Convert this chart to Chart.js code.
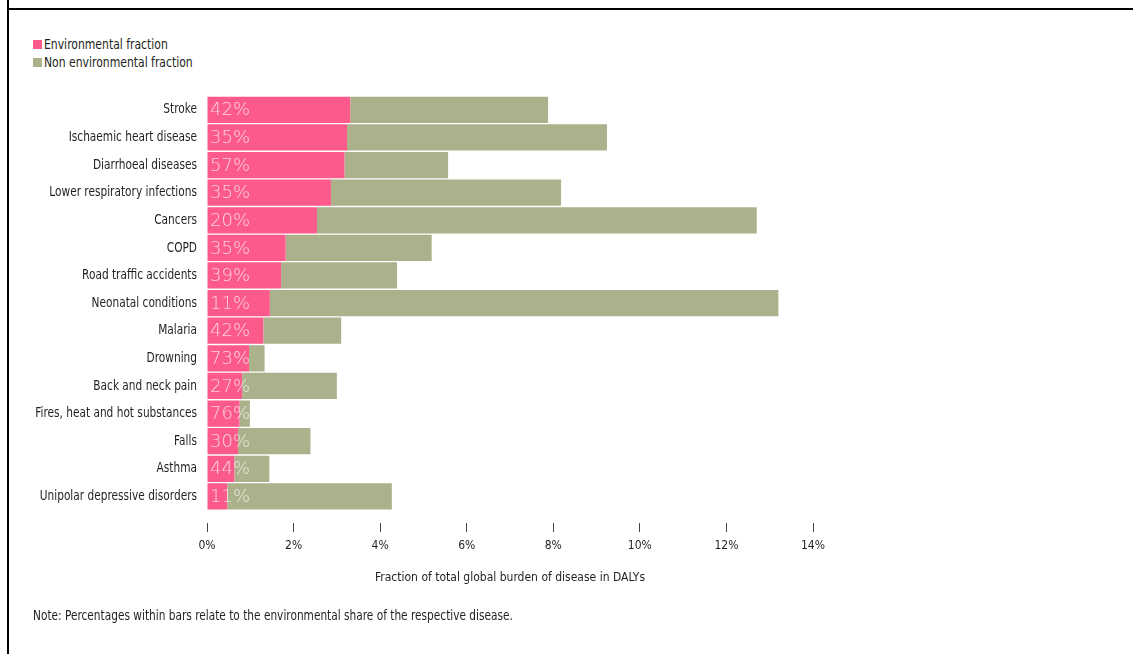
<!DOCTYPE html>
<html>
<head>
<meta charset="utf-8">
<script src="https://cdn.jsdelivr.net/npm/chart.js@4.4.1/dist/chart.umd.min.js"></script>
<style>
  html, body { margin: 0; padding: 0; background: #fff; }
  body { width: 1133px; height: 654px; position: relative; overflow: hidden;
         font-family: "DejaVu Sans Condensed", "DejaVu Sans", sans-serif; color: #231f20; }
  .frame-left { position: absolute; left: 7px; top: 0; width: 2px; height: 654px; background: #000; }
  .frame-top { position: absolute; left: 7px; top: 8px; width: 1126px; height: 2px; background: #000; }
  #legend { position: absolute; left: 33px; top: 35px; font-size: 14px; line-height: 18px; }
  #legend div { display: flex; align-items: center; }
  #legend span.box { display: inline-block; width: 9px; height: 9px; margin-right: 2px; }
  #legend span.txt { display: inline-block; transform: scaleX(0.86); transform-origin: left center; }
  .note { position: absolute; left: 33px; top: 607px; font-size: 14px; white-space: nowrap;
          transform: scaleX(0.84); transform-origin: left center; }
  #wrap { position: absolute; left: 0; top: 0; width: 1133px; height: 654px; }
</style>
</head>
<body>
<div class="frame-left"></div>
<div class="frame-top"></div>
<div id="legend"></div>
<div id="wrap"><canvas id="dalyChart"></canvas></div>
<div class="note">Note: Percentages within bars relate to the environmental share of the respective disease.</div>

<script>
const diseases = [
  'Stroke', 'Ischaemic heart disease', 'Diarrhoeal diseases', 'Lower respiratory infections',
  'Cancers', 'COPD', 'Road traffic accidents', 'Neonatal conditions', 'Malaria', 'Drowning',
  'Back and neck pain', 'Fires, heat and hot substances', 'Falls', 'Asthma', 'Unipolar depressive disorders'
];
// share of total global DALYs, in %
const totalShare = [7.88, 9.24, 5.57, 8.18, 12.7, 5.19, 4.39, 13.2, 3.1, 1.33, 3.0, 0.99, 2.39, 1.44, 4.27];
// environmental share of each disease, in %
const envPercent = [42, 35, 57, 35, 20, 35, 39, 11, 42, 73, 27, 76, 30, 44, 11];
const xTicks = [0, 2, 4, 6, 8, 10, 12, 14];

const envPart = totalShare.map((t, i) => +(t * envPercent[i] / 100).toFixed(3));
const nonEnvPart = totalShare.map((t, i) => +(t - envPart[i]).toFixed(3));

const PINK = '#fb5a8a';
const OLIVE = '#abb18b';
const FONT = '"DejaVu Sans Condensed", "DejaVu Sans", sans-serif';

// disease names, squeezed to a narrow face
const narrowCategoryLabels = {
  id: 'narrowCategoryLabels',
  afterDraw(chart) {
    const ctx = chart.ctx;
    const yScale = chart.scales.y;
    const x = chart.chartArea.left - 10;
    ctx.save();
    ctx.font = '14px ' + FONT;
    ctx.fillStyle = '#231f20';
    ctx.textAlign = 'right';
    ctx.textBaseline = 'middle';
    chart.data.labels.forEach((lbl, i) => {
      const y = yScale.getPixelForTick(i);
      ctx.save();
      ctx.translate(x, y);
      ctx.scale(0.84, 1);
      ctx.fillText(lbl, 0, 0);
      ctx.restore();
    });
    ctx.restore();
  }
};

// labels inside the bars: environmental share
const shareLabels = {
  id: 'shareLabels',
  afterDatasetsDraw(chart) {
    const ctx = chart.ctx;
    const meta = chart.getDatasetMeta(0);
    ctx.save();
    ctx.font = '200 18px "DejaVu Sans", sans-serif';
    ctx.fillStyle = 'rgba(255,255,255,0.72)';
    ctx.textBaseline = 'middle';
    ctx.textAlign = 'left';
    meta.data.forEach((bar, i) => {
      ctx.fillText(envPercent[i] + '%', chart.chartArea.left + 3, bar.y + 1);
    });
    ctx.restore();
  }
};

const chart = new Chart(document.getElementById('dalyChart'), {
  type: 'bar',
  data: {
    labels: diseases,
    datasets: [
      { label: 'Environmental fraction', data: envPart, backgroundColor: PINK, borderWidth: 0 },
      { label: 'Non environmental fraction', data: nonEnvPart, backgroundColor: OLIVE, borderWidth: 0 }
    ]
  },
  options: {
    indexAxis: 'y',
    responsive: true,
    maintainAspectRatio: false,
    animation: false,
    datasets: { bar: { barPercentage: 0.95, categoryPercentage: 1 } },
    layout: { padding: { left: 20, top: 96, right: 320, bottom: 69 } },
    plugins: { legend: { display: false }, tooltip: { enabled: false } },
    scales: {
      x: {
        stacked: true,
        min: 0, max: 14,
        afterBuildTicks: (scale) => { scale.ticks = xTicks.map(v => ({ value: v })); },
        border: { display: false },
        grid: {
          drawOnChartArea: false,
          drawTicks: true,
          tickLength: 22,
          tickBorderDash: [0, 13, 9, 100],
          tickColor: '#444',
          tickWidth: 1
        },
        ticks: {
          padding: 6,
          color: '#231f20',
          font: { family: FONT, size: 12 },
          callback: (v) => v + '%'
        },
        title: {
          display: true,
          text: 'Fraction of total global burden of disease in DALYs',
          color: '#231f20',
          font: { family: FONT, size: 12 },
          padding: { top: 12, bottom: 0 }
        }
      },
      y: {
        stacked: true,
        border: { display: false },
        grid: { display: false },
        afterFit: (scale) => { scale.width = 187; },
        ticks: { display: false }
      }
    }
  },
  plugins: [shareLabels, narrowCategoryLabels]
});

// legend built from the datasets
const legend = document.getElementById('legend');
chart.data.datasets.forEach(ds => {
  const row = document.createElement('div');
  const box = document.createElement('span');
  box.className = 'box';
  box.style.background = ds.backgroundColor;
  const txt = document.createElement('span');
  txt.className = 'txt';
  txt.textContent = ds.label;
  row.appendChild(box);
  row.appendChild(txt);
  legend.appendChild(row);
});
</script>
</body>
</html>
